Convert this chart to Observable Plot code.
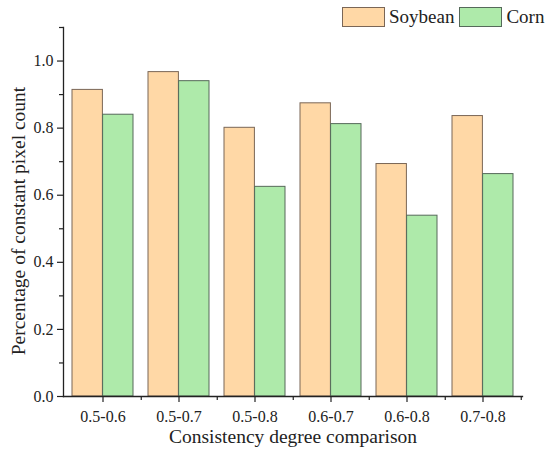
<!DOCTYPE html>
<html><head><meta charset="utf-8">
<script src="https://cdn.jsdelivr.net/npm/d3@7"></script>
<script src="https://cdn.jsdelivr.net/npm/@observablehq/plot@0.6"></script>
<style>
body{margin:0;background:#fff;}
#wrap{position:relative;width:546px;height:457px;font-family:"Liberation Serif","Times New Roman",serif;}
.legend{position:absolute;top:7px;left:342px;display:flex;align-items:center;font-size:19px;color:#222;line-height:20px;}
.legend .sw{width:41px;height:18px;border:1px solid #6e6259;margin-right:4px;}
.legend .lab{margin-right:5px;}
</style></head><body><div id="wrap"></div>
<script>
const categories = ["0.5-0.6","0.5-0.7","0.5-0.8","0.6-0.7","0.6-0.8","0.7-0.8"];
const soybean = [0.914,0.967,0.801,0.874,0.693,0.836];
const corn = [0.840,0.940,0.625,0.812,0.539,0.663];
const seriesNames = ["Soybean","Corn"];
const yTicks = [0,0.2,0.4,0.6,0.8,1.0];
const yMinorTicks = [0.1,0.3,0.5,0.7,0.9,1.1];
const xTitle = "Consistency degree comparison";
const yTitle = "Percentage of constant pixel count";

const colors = {Soybean:{fill:"#FFD8A6", stroke:"#7a6656"}, Corn:{fill:"#AEEAAA", stroke:"#56695a"}};
const W=546,H=457,mL=63,mR=24,mT=27,mB=61;
const rows = categories.map((c,i)=>({category:c, Soybean:soybean[i], Corn:corn[i]}));
const step = (W-mL-mR)/categories.length;
const half = step*0.8/2;

const chart = Plot.plot({
  width:W, height:H, marginLeft:mL, marginRight:mR, marginTop:mT, marginBottom:mB,
  style:{fontFamily:"'Liberation Serif','Times New Roman',serif", fontSize:"16px", color:"#222", background:"#fff"},
  x:{domain:categories, paddingInner:0.2, paddingOuter:0.1, axis:null},
  y:{domain:[0,1.1], axis:null},
  marks:[
    Plot.barY(rows,{x:"category", y:"Soybean", fill:colors.Soybean.fill, stroke:colors.Soybean.stroke, strokeWidth:1, insetRight:half}),
    Plot.barY(rows,{x:"category", y:"Corn", fill:colors.Corn.fill, stroke:colors.Corn.stroke, strokeWidth:1, insetLeft:half}),
    Plot.axisY(yTicks,{tickSize:6, tickPadding:4, tickFormat:d3.format(".1f"), label:null, fontSize:16, stroke:"#222", strokeWidth:1.2}),
    Plot.axisY(yMinorTicks,{tickSize:4, tickFormat:()=>"", label:null, stroke:"#222", strokeWidth:1.2}),
    Plot.axisX(categories,{tickSize:6, tickPadding:8, label:null, fontSize:16, stroke:"#222", strokeWidth:1.2}),
    Plot.axisX(categories,{tickSize:4, tickFormat:()=>"", label:null, dx:step/2, stroke:"#222", strokeWidth:1.2}),
    Plot.frame({anchor:"left", stroke:"#222", strokeWidth:1.3}),
    Plot.frame({anchor:"bottom", stroke:"#222", strokeWidth:1.3}),
    Plot.text([yTitle],{frameAnchor:"left", textAnchor:"middle", rotate:-90, dx:-45, dy:9, fontSize:19.5, fill:"#222"}),
    Plot.text([xTitle],{frameAnchor:"bottom", textAnchor:"middle", dy:46, fontSize:19.5, fill:"#222"})
  ]
});
const wrap = document.getElementById("wrap");
wrap.appendChild(chart);
const leg = document.createElement("div");
leg.className = "legend";
seriesNames.forEach(n=>{
  const sw = document.createElement("span"); sw.className="sw";
  sw.style.background = colors[n].fill; sw.style.borderColor = colors[n].stroke;
  const lab = document.createElement("span"); lab.className="lab"; lab.textContent = n;
  leg.appendChild(sw); leg.appendChild(lab);
});
wrap.appendChild(leg);
</script></body></html>
